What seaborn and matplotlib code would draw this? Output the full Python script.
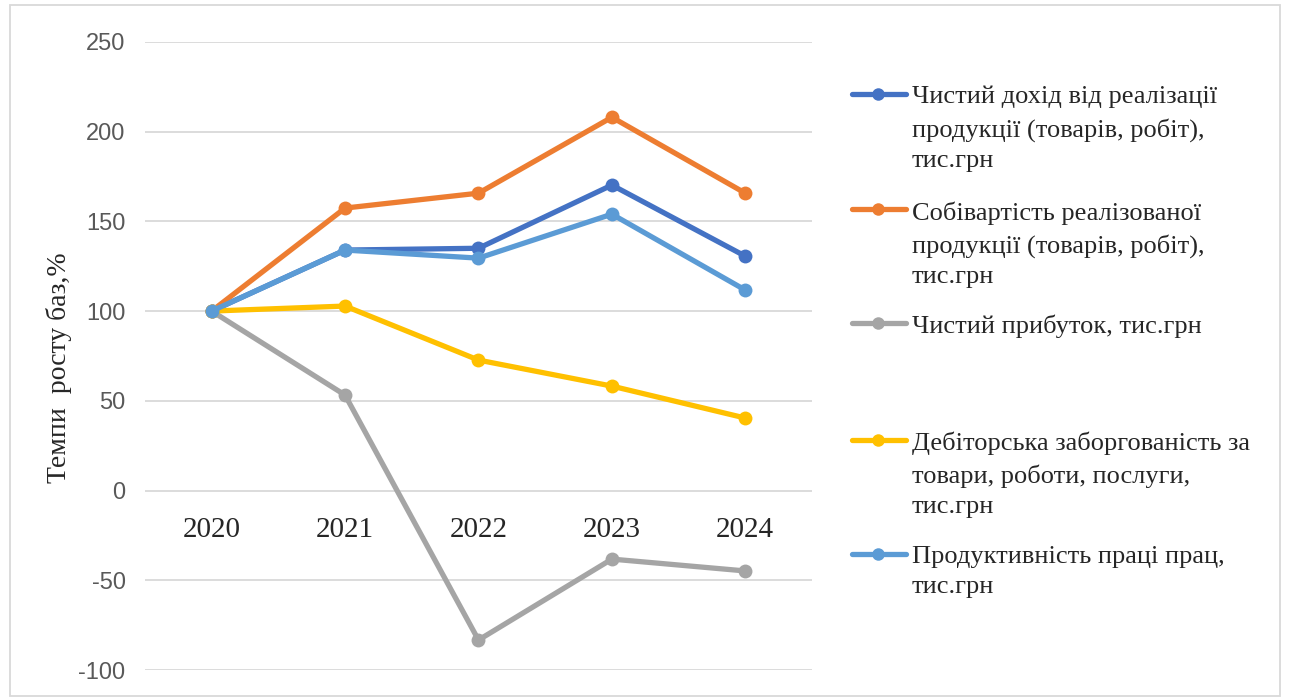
import pandas as pd
import numpy as np
import seaborn as sns
import matplotlib.pyplot as plt
from matplotlib.lines import Line2D
from matplotlib.patches import Rectangle

years = ["2020", "2021", "2022", "2023", "2024"]
names = [
    "Чистий дохід від реалізації\nпродукції (товарів, робіт),\nтис.грн",
    "Собівартість реалізованої\nпродукції (товарів, робіт),\nтис.грн",
    "Чистий прибуток, тис.грн",
    "Дебіторська заборгованість за\nтовари, роботи, послуги,\nтис.грн",
    "Продуктивність праці прац,\nтис.грн",
]
dohid = [100, 134, 135, 170.2, 130.6]
sobivartist = [100, 157.4, 165.7, 208, 165.7]
prybutok = [100, 53.2, -83.3, -38.2, -44.8]
debitorska = [100, 102.8, 72.7, 58.2, 40.4]
produktyvnist = [100, 134, 129.5, 154, 111.7]
colors = ["#4472C4", "#ED7D31", "#A5A5A5", "#FFC000", "#5B9BD5"]

series = [dohid, sobivartist, prybutok, debitorska, produktyvnist]
df = pd.DataFrame({
    "year": years * len(names),
    "value": np.concatenate(series),
    "name": np.repeat(names, len(years)),
})

sns.set_style("white")
plt.rcParams['font.family'] = ['Liberation Serif', 'DejaVu Serif']
plt.rcParams['axes.unicode_minus'] = False

fig = plt.figure(figsize=(12.93, 6.98), dpi=100)
ax = fig.add_axes([0.1121, 0.0401, 0.5159, 0.8999])

sns.lineplot(data=df, x="year", y="value", hue="name", hue_order=names,
             palette=colors, marker="o", markersize=10, markeredgewidth=0,
             linewidth=3.8, sort=False, legend=False, ax=ax)

ax.set_xlim(-0.5, 4.5)
ax.set_ylim(-100, 250)
ax.set_yticks(np.arange(-100, 251, 50))
ax.yaxis.grid(True, color="#D9D9D9", linewidth=1.3)
ax.set_axisbelow(True)
for s in ["left", "right", "top"]:
    ax.spines[s].set_visible(False)
ax.spines["bottom"].set_position(("data", 0))
ax.spines["bottom"].set_visible(False)
ax.tick_params(axis="x", length=0, pad=19, labelsize=21)
ax.tick_params(axis="y", length=0, pad=14, labelsize=17, labelcolor="#595959")
for lab in ax.get_yticklabels():
    lab.set_family(["Liberation Sans", "DejaVu Sans"])
ax.set_xlabel("")
ax.set_ylabel("Темпи  росту баз,%", fontsize=20)
ax.yaxis.set_label_coords(-0.109, 0.482)

# legend drawn by hand so the marker sits at the first line of each label
tops = [0.865, 0.700, 0.537, 0.370, 0.206]
for nm, c, yy in zip(names, colors, tops):
    fig.add_artist(Line2D([0.659, 0.701], [yy, yy], transform=fig.transFigure,
                          color=c, linewidth=3.8, solid_capstyle="round"))
    fig.add_artist(Line2D([0.679], [yy], transform=fig.transFigure,
                          color=c, marker="o", markersize=9, markeredgewidth=0))
    fig.text(0.705, yy + 0.012, nm, fontsize=19, va="top", ha="left",
             linespacing=1.5, transform=fig.transFigure)

fig.add_artist(Rectangle((0.008, 0.003), 0.982, 0.99, transform=fig.transFigure,
                         fill=False, edgecolor="#D9D9D9", linewidth=1.3))

fig.savefig("out.png", dpi=100)
